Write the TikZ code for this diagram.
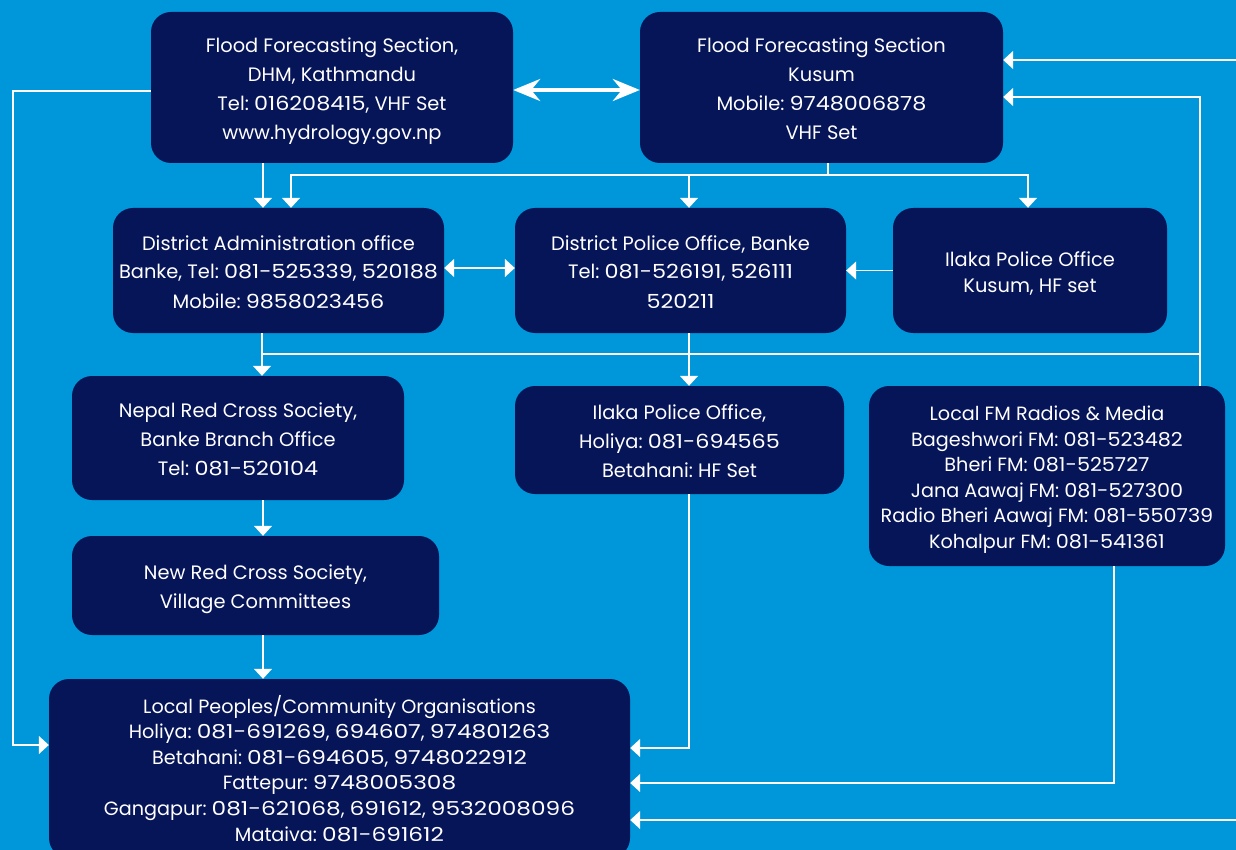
\documentclass[tikz,border=0pt]{standalone}
\usepackage{fontspec}
\setmainfont{Poppins}[Numbers=Monospaced]
\newfontfamily\digitfont{Poppins}[Numbers=Monospaced, FakeStretch=1.15]
\newfontfamily\digitfontwide{Poppins}[Numbers=Monospaced, FakeStretch=1.21]
\newfontfamily\digitfontnarrow{Poppins}[Numbers=Monospaced, FakeStretch=1.08]
\newcommand\dg[1]{{\digitfont #1}}
\newcommand\dgw[1]{{\digitfontwide #1}}
\newcommand\dgn[1]{{\digitfontnarrow #1}}
\usetikzlibrary{arrows.meta}
\definecolor{bg}{HTML}{0096DA}
\definecolor{navy}{HTML}{061458}
\newcommand\ftop{\rule{0pt}{23pt}}
\newcommand\fbot{\rule[-6pt]{0pt}{6pt}}
\begin{document}
\frenchspacing
\begin{tikzpicture}[x=1pt,y=-1pt,
  box/.style={fill=navy, rounded corners=20pt, text=white, align=center, inner sep=0pt,
    font=\fontsize{19.4}{29}\selectfont},
  smallbox/.style={box, font=\fontsize{19.2}{25.6}\selectfont},
  conn/.style={draw=white, line width=1.5pt},
  arr/.style={conn, -{Triangle[width=18pt,length=10pt]}},
  darr/.style={conn, {Triangle[width=18pt,length=10pt]}-{Triangle[width=18pt,length=10pt]}},
  bigarr/.style={draw=white, line width=4pt, {Stealth[width=22pt,length=27pt,inset=9pt]}-{Stealth[width=22pt,length=27pt,inset=9pt]}}]
\useasboundingbox (0,0) rectangle (1236,850);
\clip (0,0) rectangle (1236,850);
\fill[bg] (0,0) rectangle (1236,850);

% helper x positions
\coordinate (x13) at (13,0);
\coordinate (x262) at (262,0);
\coordinate (x263) at (263,0);
\coordinate (x291) at (291,0);
\coordinate (x689) at (689,0);
\coordinate (x1028) at (1028,0);
\coordinate (x1114) at (1114,0);
\coordinate (x1200) at (1200,0);
\coordinate (bus1) at (828,175);
\coordinate (bus2) at (262,354);
\coordinate (tr) at (1236,60);
\coordinate (br) at (1236,820);

\node[box, minimum width=362pt, minimum height=151pt] (dhm) at (332,87.5)
  {\ftop Flood Forecasting Section,\\DHM, Kathmandu\\Tel: \dg{016208415}, VHF Set\\www.hydrology.gov.np\fbot};
\node[box, minimum width=363pt, minimum height=151pt] (kusum) at (821.5,87.5)
  {\ftop Flood Forecasting Section\\Kusum\\Mobile: \dg{9748006878}\\VHF Set\fbot};
\node[box, minimum width=331pt, minimum height=125pt] (dao) at (278.5,270.5)
  {\ftop District Administration office\\Banke, Tel: \dg{081-525339}, \dg{520188}\\Mobile: \dg{9858023456}\fbot};
\node[box, minimum width=331pt, minimum height=125pt] (dpo) at (680.5,270.5)
  {\ftop District Police Office, Banke\\Tel: \dg{081-526191}, \dg{526111}\\\dg{520211}\fbot};
\node[box, font=\fontsize{19.4}{26}\selectfont, minimum width=274pt, minimum height=125pt] (ilk) at (1030,270.5)
  {\ftop Ilaka Police Office\\Kusum, HF set\fbot};
\node[box, minimum width=332pt, minimum height=124pt] (nrcs) at (238,438)
  {\ftop Nepal Red Cross Society,\\Banke Branch Office\\Tel: \dg{081-520104}\fbot};
\node[box, minimum width=329pt, minimum height=108pt] (ilh) at (679.5,440)
  {\ftop Ilaka Police Office,\\Holiya: \dg{081-694565}\\Betahani: HF Set\fbot};
\node[smallbox, minimum width=356pt, minimum height=180pt] (fm) at (1047,476)
  {\ftop Local FM Radios \& Media\\Bageshwori FM: \dgn{081-523482}\\Bheri FM: \dgn{081-525727}\\Jana Aawaj FM: \dgn{081-527300}\\Radio Bheri Aawaj FM: \dgn{081-550739}\\Kohalpur FM: \dgn{081-541361}\fbot};
\node[box, minimum width=367pt, minimum height=99pt] (nrc2) at (255.5,585.5)
  {\ftop New Red Cross Society,\\Village Committees\fbot};
\node[smallbox, minimum width=581pt, minimum height=179pt] (local) at (339.5,768.5)
  {\ftop Local Peoples/Community Organisations\\Holiya: \dgw{081-691269}, \dgw{694607}, \dgw{974801263}\\Betahani: \dgw{081-694605}, \dgw{9748022912}\\Fattepur: \dgw{9748005308}\\Gangapur: \dgw{081-621068}, \dgw{691612}, \dgw{9532008096}\\Mataiva: \dgw{081-691612}\fbot};

% connectors
\draw[bigarr] ([yshift=-2.5pt]dhm.east) -- ([yshift=-2.5pt]kusum.west);
\draw[arr] ([yshift=-3.5pt]dhm.west) -| ([yshift=23.5pt]local.west -| x13) -- ([yshift=23.5pt]local.west);
\draw[arr] (dhm.south -| x263) -- (dao.north -| x263);
\draw[conn] (kusum.south -| bus1) -- (bus1);
\draw[arr] (bus1) -| (dao.north -| x291);
\draw[arr] (bus1) -| (ilk.north -| x1028);
\draw[arr] (bus1 -| x689) -- (dpo.north -| x689);
\draw[darr] ([yshift=2.5pt]dao.east) -- ([yshift=2.5pt]dpo.west);
\draw[arr] (ilk.west) -- (dpo.east);
\draw[arr] (dao.south -| x262) -- (nrcs.north -| x262);
\draw[conn] (bus2) -- (bus2 -| x1200);
\draw[arr] (dpo.south -| x689) -- (ilh.north -| x689);
\draw[arr] (fm.north -| x1200) |- ([yshift=-9.5pt]kusum.east);
\draw[arr] (tr) -- (kusum.east |- tr);
\draw[arr] (nrcs.south -| x263) -- (nrc2.north -| x263);
\draw[arr] (nrc2.south -| x263) -- (local.north -| x263);
\draw[arr] (ilh.south -| x689) |- ([yshift=20.5pt]local.east);
\draw[arr] (fm.south -| x1114) |- ([yshift=-14.5pt]local.east);
\draw[arr] (br) -- (local.east |- br);
\end{tikzpicture}
\end{document}
